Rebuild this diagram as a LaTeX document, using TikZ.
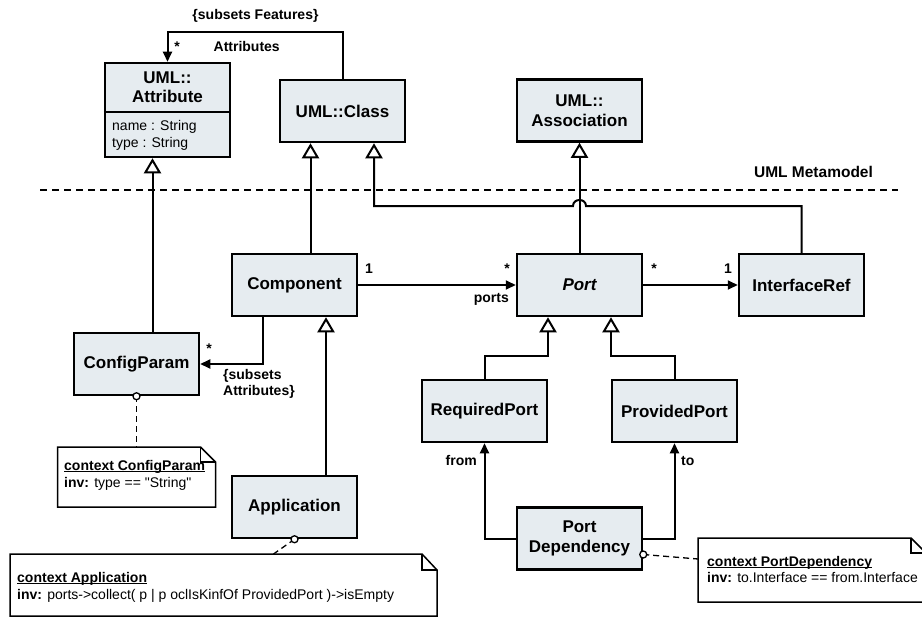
\documentclass[tikz,border=0pt]{standalone}
\usepackage{fontspec}
\setmainfont{Liberation Sans}[Ligatures=TeXOff]
\usetikzlibrary{arrows.meta,calc}
\definecolor{boxfill}{RGB}{230,236,240}
\newcommand{\ulctx}[1]{\setbox0\hbox{#1}\rlap{\rule[-2.2pt]{\wd0}{1.1pt}}\box0}
\tikzset{
  umlbox/.style={draw, line width=2.5pt, fill=boxfill, minimum width=125pt, minimum height=62pt,
    inner sep=0pt, align=center, font=\fontsize{17}{20}\selectfont\bfseries},
  titletxt/.style={inner sep=0pt, align=center, font=\fontsize{17}{19}\selectfont\bfseries},
  conn/.style={line width=2pt},
  assocarrow/.style={conn, -{Triangle[length=10pt,width=9pt]}},
  genarrow/.style={conn, -{Triangle[fill=white,length=15pt,width=17pt]}},
  lbl/.style={font=\fontsize{14}{16}\selectfont\bfseries, inner sep=0pt},
  notebox/.style={draw=none, inner sep=0pt, outer sep=0pt},
  noteline/.style={line width=1.5pt},
  notelink/.style={line width=1.3pt, dash pattern=on 6pt off 4pt},
  notetxt/.style={font=\fontsize{14}{16}\selectfont, inner sep=0pt, anchor=base west},
  sepline/.style={line width=2pt, dash pattern=on 7pt off 5pt},
}
\begin{document}
\begin{tikzpicture}[x=1pt,y=-1pt]
\useasboundingbox (0,0) rectangle (922,618);

% separator
\coordinate (sepL) at (40,190);
\coordinate (sepR) at (898,190);
\draw[sepline] (sepL) -- (sepR);
\node[lbl, anchor=base, font=\fontsize{15.5}{18}\selectfont\bfseries] (meta) at (813.5,177) {UML Metamodel};

% classes
\node[umlbox, minimum height=94pt] (attr) at (167.5,110) {};
\node[titletxt] (attrtitle) at (167.5,87) {UML::\\Attribute};
\draw[line width=2pt] (attr.west |- 0,112) -- (attr.east |- 0,112);
\node[notetxt] (attrname) at (112,130) {name : String};
\node[notetxt] (attrtype) at (112,147) {type : String};

\node[umlbox] (cls) at (342.5,111) {UML::Class};
\node[umlbox] (assoc) at (579.5,110.5) {UML::\\Association};
\node[umlbox] (comp) at (294.5,285) {Component};
\node[umlbox] (port) at (579.5,285) {\itshape Port};
\node[umlbox] (iref) at (801.5,285) {InterfaceRef};
\node[umlbox] (cfg) at (136.5,364) {ConfigParam};
\node[umlbox] (app) at (294.5,507) {Application};
\node[umlbox] (req) at (484.5,411) {RequiredPort};
\node[umlbox] (prov) at (674.5,411) {ProvidedPort};
\node[umlbox] (pdep) at (579.5,538.5) {Port\\Dependency};

% Attributes association
\coordinate (topbend) at (167.5,32);
\draw[assocarrow] (cls.north) |- (topbend) -- (attr.north);
\node[lbl, anchor=base] (subfeat) at (255.5,20) {\{subsets Features\}};
\node[lbl, anchor=base] (attrlbl) at (246.7,52) {Attributes};
\node[lbl, anchor=base] (attrstar) at (177,52) {*};

% generalizations
\draw[genarrow] ([xshift=16pt]cfg.north) -- ([xshift=-15pt]attr.south);
\draw[genarrow] ([xshift=16pt]comp.north) -- ([xshift=-32pt]cls.south);
\draw[genarrow] (port.north) -- (assoc.south);
\coordinate (hopR) at (586,206);
\coordinate (hopL) at (573,206);
\draw[genarrow] (iref.north) |- (hopR) .. controls (586,198) and (573,198) .. (hopL)
  -- ([xshift=31.5pt]cls.south |- hopL) -- ([xshift=31.5pt]cls.south);
\coordinate (rqbend) at (548,356);
\coordinate (pvbend) at (611,356);
\draw[genarrow] (req.north) |- (rqbend) -- (rqbend |- port.south);
\draw[genarrow] (prov.north) |- (pvbend) -- (pvbend |- port.south);
\draw[genarrow] ([xshift=31.5pt]app.north) -- ([xshift=31.5pt]comp.south);

% associations
\draw[assocarrow] (comp.east) -- (port.west);
\draw[assocarrow] (port.east) -- (iref.west);
\draw[assocarrow] ([xshift=-31.5pt]comp.south) |- (cfg.east);
\draw[assocarrow] (pdep.west) -| (req.south);
\draw[assocarrow] (pdep.east) -| (prov.south);

% multiplicities and roles
\node[lbl, anchor=base] (m1) at (369,273) {1};
\node[lbl, anchor=base] (m2) at (507,273) {*};
\node[lbl, anchor=base east] (portsl) at (509,302) {ports};
\node[lbl, anchor=base] (m3) at (654,273) {*};
\node[lbl, anchor=base] (m4) at (728,273) {1};
\node[lbl, anchor=base] (m5) at (209,353) {*};
\node[lbl, anchor=north west, align=left] (subattr) at (223,369) {\{subsets\\Attributes\}};
\node[lbl, anchor=base east] (froml) at (477,465) {from};
\node[lbl, anchor=base west] (tol) at (681,465) {to};

% notes
\node[notebox, minimum width=158pt, minimum height=60pt] (n1) at (136.5,477) {};
\draw[noteline, fill=white] (n1.south west) -- (n1.north west) -- ([xshift=-15pt]n1.north east)
  -- ([yshift=-15pt]n1.north east) -- (n1.south east) -- cycle;
\draw[noteline] ([xshift=-15pt]n1.north east) -- ([xshift=-15pt,yshift=-15pt]n1.north east) -- ([yshift=-15pt]n1.north east);
\node[notetxt] (n1a) at (64,470) {\ulctx{\textbf{context ConfigParam}}};
\node[notetxt] (n1b) at (64,487) {\textbf{inv:} type == "String"};

\node[notebox, minimum width=427pt, minimum height=62pt] (n2) at (223.5,585) {};
\draw[noteline, fill=white] (n2.south west) -- (n2.north west) -- ([xshift=-15pt]n2.north east)
  -- ([yshift=-16pt]n2.north east) -- (n2.south east) -- cycle;
\draw[noteline] ([xshift=-15pt]n2.north east) -- ([xshift=-15pt,yshift=-16pt]n2.north east) -- ([yshift=-16pt]n2.north east);
\node[notetxt] (n2a) at (17,582) {\ulctx{\textbf{context Application}}};
\node[notetxt] (n2b) at (17,599) {\textbf{inv:} ports->collect( p | p oclIsKinfOf ProvidedPort )->isEmpty};

\node[notebox, minimum width=228pt, minimum height=64pt] (n3) at (812,570) {};
\draw[noteline, fill=white] (n3.south west) -- (n3.north west) -- ([xshift=-15pt]n3.north east)
  -- ([yshift=-15pt]n3.north east) -- (n3.south east) -- cycle;
\draw[noteline] ([xshift=-15pt]n3.north east) -- ([xshift=-15pt,yshift=-15pt]n3.north east) -- ([yshift=-15pt]n3.north east);
\node[notetxt] (n3a) at (707,566) {\ulctx{\textbf{context PortDependency}}};
\node[notetxt] (n3b) at (707,582) {\textbf{inv:} to.Interface == from.Interface};

% note links
\draw[notelink] (cfg.south) -- (n1.north);
\draw[line width=1.3pt, fill=white] (cfg.south) circle (3.5pt);
\draw[notelink] (app.south) -- ([xshift=50pt]n2.north);
\draw[line width=1.3pt, fill=white] (app.south) circle (3.5pt);
\draw[notelink] ([yshift=-16pt]pdep.east) -- ([yshift=11pt]n3.west);
\draw[line width=1.3pt, fill=white] ([yshift=-16pt]pdep.east) circle (3.5pt);
\end{tikzpicture}
\end{document}
